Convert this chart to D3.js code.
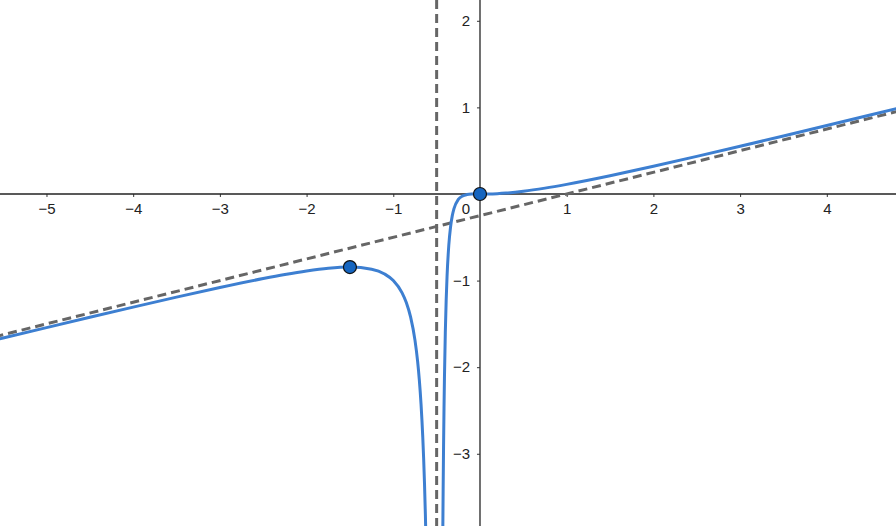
<!DOCTYPE html>
<html><head><meta charset="utf-8">
<script src="https://cdn.jsdelivr.net/npm/d3@7"></script>
<style>body{margin:0;background:#fff}svg{display:block}</style>
</head><body>
<script>
// Left branch of curve (x < -0.5)
const leftX = [-5.6,-5.5,-5,-4.5,-4,-3.5,-3,-2.5,-2.25,-2,-1.75,-1.5,-1.25,-1.1,-1,-0.9,-0.85,-0.8,-0.75,-0.72,-0.7,-0.68,-0.66,-0.65,-0.64,-0.63,-0.62];
const leftY = [-1.688,-1.6638,-1.5432,-1.4238,-1.3061,-1.191,-1.08,-0.9766,-0.9299,-0.8889,-0.8575,-0.84375,-0.8681,-0.9243,-1,-1.1391,-1.2533,-1.4222,-1.6875,-1.9279,-2.1438,-2.4262,-2.8076,-3.0514,-3.3437,-3.699,-4.1377];
// Right branch of curve (x > -0.5)
const rightX = [-0.43,-0.428,-0.425,-0.42,-0.415,-0.41,-0.4,-0.39,-0.38,-0.36,-0.34,-0.32,-0.3,-0.25,-0.2,-0.15,-0.1,0,0.1,0.2,0.3,0.5,0.75,1,1.5,2,2.5,3,3.5,4,4.5,5];
const rightY = [-4.0565,-3.781,-3.4118,-2.894,-2.4731,-2.1272,-1.6,-1.2256,-0.9526,-0.5951,-0.3838,-0.2528,-0.16875,-0.0625,-0.02222,-0.006888,-0.0015625,0,0.000694,0.004082,0.010547,0.03125,0.0675,0.1111,0.2109,0.32,0.434,0.551,0.6699,0.7901,0.91125,1.0331];
// Asymptotes
const obliqueX = [-5.6, 5];
const obliqueY = [-1.65, 1.0];
const verticalX = [-0.5];
// Marked points
const pointsX = [-1.5, 0];
const pointsY = [-0.84375, 0];
// Tick labels
const xTicks = [-5,-4,-3,-2,-1,1,2,3,4];
const yTicks = [-3,-2,-1,1,2];

const W = 896, H = 526;
const x = d3.scaleLinear().domain([-5.536, 4.798]).range([0, W]);
const y = d3.scaleLinear().domain([2.240, -3.834]).range([0, H]);
const FS = 15;

const svg = d3.select("body").append("svg").attr("width", W).attr("height", H)
  .style("font-family", "'Liberation Sans', Arial, sans-serif");
svg.append("defs").append("clipPath").attr("id","clip")
  .append("rect").attr("width", W).attr("height", H);

const fmt = d => d < 0 ? "\u2212" + Math.abs(d) : String(d);

// x axis
const xAxis = svg.append("g").attr("transform", `translate(0,${y(0)})`)
  .call(d3.axisBottom(x).tickValues(xTicks).tickSize(3).tickSizeOuter(0).tickFormat(fmt));
xAxis.select(".domain").remove();
xAxis.selectAll(".tick line").attr("stroke", "#333");
xAxis.selectAll(".tick text").attr("font-size", FS).attr("fill", "#222").attr("dy", null).attr("y", 20);
svg.append("line").attr("x1", 0).attr("x2", W).attr("y1", y(0)).attr("y2", y(0))
  .attr("stroke", "#222").attr("stroke-width", 1.4);

// y axis
const yAxis = svg.append("g").attr("transform", `translate(${x(0)},0)`)
  .call(d3.axisLeft(y).tickValues(yTicks).tickSize(3).tickSizeOuter(0).tickFormat(fmt));
yAxis.select(".domain").remove();
yAxis.selectAll(".tick line").attr("stroke", "#333");
yAxis.selectAll(".tick text").attr("font-size", FS).attr("fill", "#222").attr("x", -10);
svg.append("line").attr("y1", 0).attr("y2", H).attr("x1", x(0)).attr("x2", x(0))
  .attr("stroke", "#333").attr("stroke-width", 1.4);
svg.append("text").attr("x", x(0) - 10).attr("y", y(0) + 20)
  .attr("text-anchor", "end").attr("font-size", FS).attr("fill", "#222").text("0");

const plot = svg.append("g").attr("clip-path", "url(#clip)");

// asymptotes
plot.append("line")
  .attr("x1", x(obliqueX[0])).attr("y1", y(obliqueY[0]))
  .attr("x2", x(obliqueX[1])).attr("y2", y(obliqueY[1]))
  .attr("stroke", "#666").attr("stroke-width", 3).attr("stroke-dasharray", "9,5");
plot.selectAll(".vasym").data(verticalX).enter().append("line")
  .attr("x1", d => x(d)).attr("x2", d => x(d)).attr("y1", 0).attr("y2", H)
  .attr("stroke", "#666").attr("stroke-width", 3).attr("stroke-dasharray", "9,5");

// curve
const line = d3.line().x(d => x(d[0])).y(d => y(d[1])).curve(d3.curveMonotoneX);
[[leftX, leftY], [rightX, rightY]].forEach(([xs, ys]) => {
  plot.append("path").datum(xs.map((v, i) => [v, ys[i]]))
    .attr("d", line).attr("fill", "none")
    .attr("stroke", "#3d7fd1").attr("stroke-width", 3);
});

// points
plot.selectAll(".pt").data(pointsX.map((v, i) => [v, pointsY[i]])).enter().append("circle")
  .attr("cx", d => x(d[0])).attr("cy", d => y(d[1])).attr("r", 6.5)
  .attr("fill", "#1565c0").attr("stroke", "#111").attr("stroke-width", 1.2);
</script>
</body></html>
